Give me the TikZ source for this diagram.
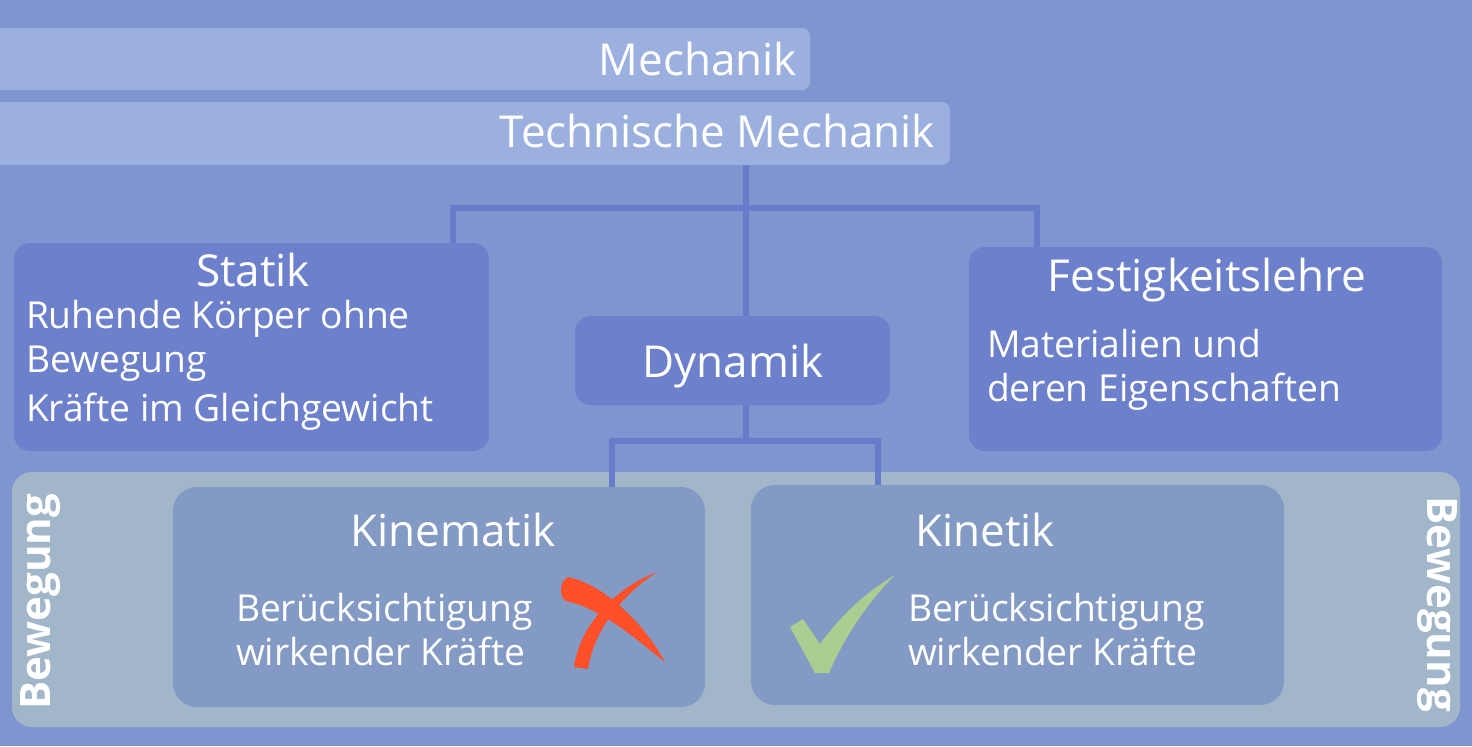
\documentclass[tikz,border=0pt]{standalone}
\usepackage{fontspec}
\setmainfont{Open Sans}
\usetikzlibrary{positioning,calc}

\definecolor{bgblue}{RGB}{127,149,208}
\definecolor{barblue}{RGB}{155,176,222}
\definecolor{boxblue}{RGB}{108,128,204}
\definecolor{linkblue}{RGB}{104,124,204}
\definecolor{regiongray}{RGB}{161,182,201}
\definecolor{subblue}{RGB}{130,154,196}
\definecolor{crossred}{RGB}{255,80,40}
\definecolor{checkgreen}{RGB}{170,205,145}

\begin{document}
\begin{tikzpicture}[x=0.5pt,y=-0.5pt,
  bar/.style={fill=barblue,rounded corners=4pt,inner sep=0pt},
  box/.style={fill=boxblue,rounded corners=8pt,inner sep=0pt},
  subbox/.style={fill=subblue,rounded corners=12pt,inner sep=0pt},
  title/.style={text=white,font=\fontsize{22}{26}\selectfont,inner sep=0pt},
  body/.style={text=white,font=\fontsize{18.6}{22}\selectfont,inner sep=0pt,anchor=base west},
  side/.style={text=white,font=\fontsize{21}{24}\selectfont\bfseries,inner sep=0pt},
  link/.style={draw=linkblue,line width=3pt}]
  \useasboundingbox (0,0) rectangle (1472,746);
  \clip (0,0) rectangle (1472,746);
  \fill[bgblue] (0,0) rectangle (1472,746);

  % header bars
  \node[bar,minimum width=415pt,minimum height=31pt] (mech) at (395,59) {};
  \node[title,anchor=base east] (mechtext) at ($(mech.east)+(-13,16)$) {Mechanik};
  \node[bar,minimum width=485pt,minimum height=31.5pt] (tm) at (465,133.5) {};
  \node[title,anchor=base east] (tmtext) at ($(tm.east)+(-15,13.5)$) {Technische Mechanik};

  % upper boxes
  \node[box,minimum width=237.5pt,minimum height=104pt] (statik) at (251.5,347) {};
  \node[title,anchor=base] (statiktitle) at ($(statik.north)+(1.5,44)$) {Statik};
  \node[body] (statik1) at ($(statik.west)+(12,-19)$) {Ruhende Körper ohne};
  \node[body] (statik2) at ($(statik.west)+(12,25)$) {Bewegung};
  \node[body] (statik3) at ($(statik.west)+(12,74)$) {Kräfte im Gleichgewicht};

  \node[box,minimum width=157.5pt,minimum height=44.5pt] (dyn) at (732.5,360.5) {};
  \node[title,anchor=base] (dyntext) at ($(dyn.center)+(0.5,16.5)$) {Dynamik};

  \node[box,minimum width=236.5pt,minimum height=102pt] (fest) at (1205.5,349) {};
  \node[title,anchor=base] (festtitle) at ($(fest.north)+(1.5,45)$) {Festigkeitslehre};
  \node[body] (fest1) at ($(fest.west)+(18,8)$) {Materialien und};
  \node[body] (fest2) at ($(fest.west)+(18,52)$) {deren Eigenschaften};

  % motion region
  \node[fill=regiongray,rounded corners=10pt,minimum width=724pt,minimum height=127.5pt,inner sep=0pt] (region) at (736,599.5) {};
  \node[side,rotate=90] (leftside) at (41,601.5) {Bewegung};
  \node[side,rotate=-90] (rightside) at (1437,604) {Bewegung};

  \node[subbox,minimum width=266pt,minimum height=110pt] (kin) at (439,597) {};
  \node[title,anchor=base] (kintitle) at ($(kin.north)+(14,60)$) {Kinematik};
  \node[body] (kin1) at ($(kin.west)+(63,24)$) {Berücksichtigung};
  \node[body] (kin2) at ($(kin.west)+(63,68)$) {wirkender Kräfte};

  \node[subbox,minimum width=266.5pt,minimum height=110pt] (kinetik) at (1017.5,595) {};
  \node[title,anchor=base] (kinetiktitle) at ($(kinetik.north)+(-32.5,62)$) {Kinetik};
  \node[body] (kinetik1) at ($(kinetik.west)+(157,26)$) {Berücksichtigung};
  \node[body] (kinetik2) at ($(kinetik.west)+(157,70)$) {wirkender Kräfte};

  % connectors
  \coordinate (split) at (746,208);
  \draw[link] (tm.south -| split) -- (dyn.north -| split);
  \draw[link] ([xshift=-18pt]statik.north east) |- (split) -| ([xshift=34pt]fest.north west);
  \coordinate (split2) at (746,441);
  \draw[link] (dyn.south -| split2) -- (split2);
  \draw[link] ([xshift=-46.5pt]kin.north east) |- (split2) -| ([xshift=63.5pt]kinetik.north west);

  % cross and check mark
  \fill[crossred] (568,577) .. controls (602,584) and (642,620) .. (665,662)
    .. controls (635,638) and (600,608) .. (566,601)
    .. controls (559,597) and (559,581) .. (568,577) -- cycle;
  \fill[crossred] (657,572) .. controls (622,595) and (594,630) .. (588,669)
    -- (574,667) .. controls (580,625) and (615,588) .. (657,572) -- cycle;
  \fill[checkgreen] (790,627) -- (803,619) -- (820,644)
    .. controls (845,610) and (870,590) .. (895,575)
    .. controls (870,600) and (845,635) .. (829,673)
    -- (815,673) -- cycle;
\end{tikzpicture}
\end{document}
